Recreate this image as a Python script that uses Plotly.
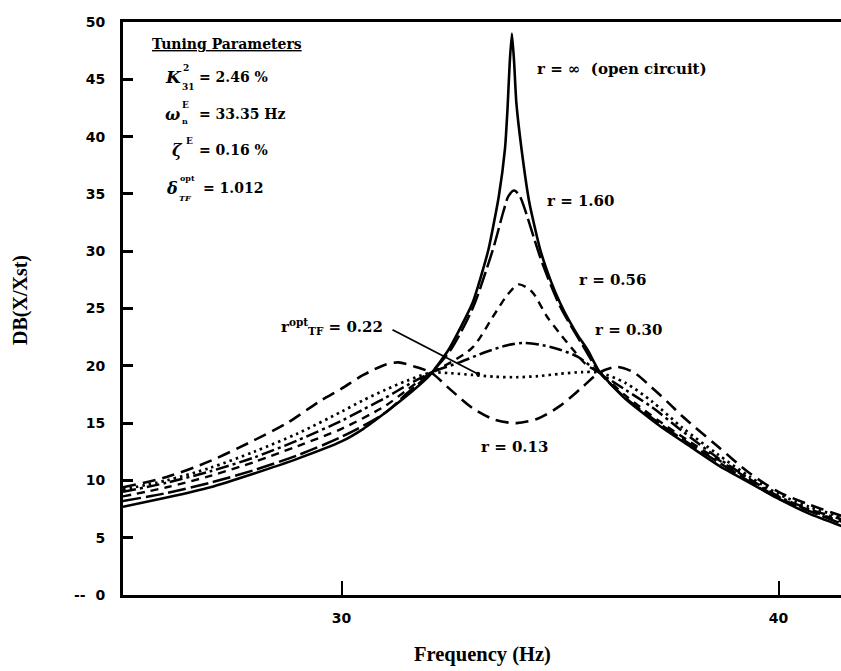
import plotly.graph_objects as go

# ---------------- data ----------------
freq_open = [25.0, 26.0, 27.0, 28.0, 29.0, 30.0, 30.5, 31.0, 31.5, 32.0, 32.45, 33.0, 33.36, 33.6,
             33.74, 33.8, 33.85, 33.9, 33.95, 34.0, 34.12, 34.3, 34.55, 34.8, 35.0, 35.2, 35.4,
             35.63, 35.9, 36.5, 37.3, 38.0, 38.67, 39.0, 40.05, 40.7, 41.45]
db_open = [7.7, 8.5, 9.4, 10.6, 11.9, 13.4, 14.5, 15.9, 17.4, 19.1, 21.4, 25.5, 30.1, 34.8,
           38.9, 42.5, 46.5, 49.0, 46.5, 43.0, 38.9, 34.2, 30.1, 27.3, 25.5, 24.0, 22.7,
           21.4, 19.5, 17.1, 14.7, 12.9, 11.2, 10.5, 8.3, 7.1, 6.0]

freq_r160 = [25.0, 26.0, 27.0, 28.0, 29.0, 30.0, 31.0, 31.5, 32.05, 32.5, 33.0, 33.3, 33.5, 33.7,
             33.82, 33.95, 34.08, 34.2, 34.4, 34.6, 35.0, 35.5, 35.9, 36.5, 37.3, 38.0, 39.0,
             40.0, 41.0, 41.45]
db_r160 = [8.2, 8.9, 9.8, 10.9, 12.2, 13.8, 15.9, 17.6, 19.4, 21.4, 25.0, 28.2, 30.6, 33.4,
           34.8, 35.3, 34.8, 33.6, 31.2, 28.9, 25.2, 21.9, 19.45, 17.2, 14.9, 13.1, 10.7,
           8.4, 6.9, 6.2]

freq_r056 = [25.0, 26.0, 27.0, 28.0, 29.0, 30.0, 31.0, 31.5, 32.05, 32.5, 33.0, 33.5, 33.8, 34.05,
             34.35, 34.7, 35.0, 35.3, 35.6, 35.9, 36.5, 37.3, 38.0, 39.0, 40.0, 41.0, 41.45]
db_r056 = [8.6, 9.4, 10.4, 11.6, 13.0, 14.5, 16.5, 17.9, 19.4, 20.3, 21.6, 24.5, 26.2, 27.1,
           26.5, 24.3, 22.8, 21.4, 20.1, 19.4, 17.4, 15.1, 13.3, 10.9, 8.5, 7.0, 6.4]

freq_r030 = [25.0, 26.0, 27.0, 28.0, 29.0, 30.0, 30.5, 31.0, 31.5, 32.05, 32.7, 33.3, 33.8, 34.15,
             34.6, 35.0, 35.4, 35.9, 36.5, 37.1, 37.8, 38.6, 39.35, 40.0, 40.7, 41.45]
db_r030 = [9.0, 9.8, 10.8, 12.0, 13.5, 15.2, 16.2, 17.2, 18.3, 19.4, 20.3, 21.2, 21.8, 22.0,
           21.8, 21.4, 20.8, 19.4, 17.9, 16.4, 14.3, 12.0, 10.1, 8.6, 7.5, 6.6]

freq_r022 = [25.0, 26.0, 27.0, 28.0, 29.0, 30.0, 30.5, 31.0, 31.5, 32.05, 32.5, 33.0, 33.5, 34.0,
             34.5, 35.0, 35.5, 35.9, 36.5, 37.1, 37.8, 38.6, 39.35, 40.0, 40.7, 41.45]
db_r022 = [9.2, 10.0, 11.1, 12.5, 14.1, 16.0, 17.0, 17.9, 18.7, 19.4, 19.35, 19.2, 19.05, 19.0,
           19.1, 19.3, 19.45, 19.4, 18.5, 16.9, 14.6, 12.3, 10.3, 8.8, 7.7, 6.8]

freq_r013 = [25.0, 26.0, 27.0, 28.0, 28.75, 29.5, 30.0, 30.5, 31.0, 31.3, 31.7, 32.05, 32.5, 33.0,
             33.5, 34.0, 34.5, 35.0, 35.5, 35.9, 36.3, 36.7, 37.1, 37.5, 37.8, 38.6, 39.35,
             40.0, 40.7, 41.45]
db_r013 = [9.4, 10.3, 11.7, 13.5, 15.0, 16.9, 18.0, 19.2, 20.1, 20.3, 19.9, 19.4, 17.9, 16.3,
           15.3, 15.0, 15.4, 16.5, 18.1, 19.4, 19.9, 19.4, 18.1, 16.7, 15.6, 13.0, 10.6,
           9.0, 7.9, 6.9]

x_ticks = [30, 40]
x_tick_labels = ["30", "40"]
y_ticks = [0, 5, 10, 15, 20, 25, 30, 35, 40, 45, 50]
y_tick_labels = ["-- &nbsp;0", "5", "10", "15", "20", "25", "30", "35", "40", "45", "50"]

# ---------------- figure ----------------
W_FIG, H_FIG = 841, 671
ML, MR, MT, MB = 123, 0, 22, 76
PW = W_FIG - ML - MR
PH = H_FIG - MT - MB
X_MAX = 41.43

fig = go.Figure()

def curve(x, y, dash, width=2.5, smooth=0.8):
    fig.add_trace(go.Scatter(x=x, y=y, mode="lines",
                             line=dict(color="black", width=width, dash=dash,
                                       shape="spline", smoothing=smooth),
                             showlegend=False, hoverinfo="skip"))

curve(freq_r013, db_r013, "13px,7px", 2.6)
curve(freq_r022, db_r022, "2.5px,4px", 2.7)
curve(freq_r030, db_r030, "13px,4px,3px,4px", 2.5)
curve(freq_r056, db_r056, "8px,6px", 2.4)
curve(freq_r160, db_r160, "18px,5px", 2.5)
curve(freq_open, db_open, "solid", 2.6, 0.5)

SERIF = "DejaVu Serif"

def txt(px, py, s, size=15, family=SERIF, anchor="left", italic=False):
    fig.add_annotation(x=(px - ML) / PW, y=(H_FIG - MB - py) / PH, xref="paper", yref="paper",
                       text=s, showarrow=False, xanchor=anchor, yanchor="middle",
                       font=dict(family=family, size=size, color="black", weight="bold",
                                 style="italic" if italic else "normal"))

# tuning parameters block
txt(150, 44, "<u>Tuning Parameters</u>", 14)
txt(163, 77, "K", 17, italic=True)
txt(181, 68, "2", 9)
txt(180, 87, "31", 9)
txt(197, 77, "= 2.46 %", 14)
txt(163, 114, "ω", 16, italic=True)
txt(180, 105, "E", 9)
txt(180, 121, "n", 8)
txt(197, 114, "= 33.35 Hz", 14)
txt(170, 150, "ζ", 16, italic=True)
txt(184, 141, "E", 9)
txt(197, 150, "= 0.16 %", 14)
txt(164, 188, "δ", 16, italic=True)
txt(178, 178, "opt", 8)
txt(177, 198, "TF", 8, italic=True)
txt(201, 188, "= 1.012", 14)

# curve labels
txt(535, 69, "r = ∞ &nbsp;(open circuit)", 15)
txt(545, 201, "r = 1.60", 15)
txt(577, 280, "r = 0.56", 15)
txt(593, 330, "r = 0.30", 15)
txt(479, 447, "r = 0.13", 15)
txt(279, 326, "r<sup>opt</sup><sub>TF</sub> = 0.22", 15)

# arrow for the optimal-r label
head_x = 25 + (478 - ML) / PW * (X_MAX - 25)
head_y = (H_FIG - MB - 374) / PH * 50
fig.add_annotation(x=head_x, y=head_y, xref="x", yref="y", text="", showarrow=True,
                   ax=391 - 478, ay=329 - 374, arrowhead=6, arrowsize=0.6,
                   arrowwidth=1.8, arrowcolor="black", standoff=0)

# axis titles
txt(482, 655, "Frequency (Hz)", 20.5, family="Liberation Serif", anchor="center")
fig.add_annotation(x=(20 - ML) / PW, y=(H_FIG - MB - 300) / PH, xref="paper", yref="paper",
                   text="DB(X/Xst)", showarrow=False, textangle=-90,
                   xanchor="center", yanchor="middle",
                   font=dict(family="Liberation Serif", size=20, color="black", weight="bold"))

fig.update_layout(
    width=W_FIG, height=H_FIG,
    margin=dict(l=ML, r=MR, t=MT, b=MB),
    paper_bgcolor="white", plot_bgcolor="white",
    xaxis=dict(range=[25, X_MAX], tickvals=x_ticks, ticktext=x_tick_labels,
               showgrid=False, zeroline=False, showline=True, linecolor="black",
               linewidth=3, mirror=True, ticks="inside", ticklen=14, tickwidth=1.5,
               tickcolor="black", ticklabelstandoff=8,
               tickfont=dict(family="DejaVu Sans", size=14, color="black", weight="bold")),
    yaxis=dict(range=[0, 50], tickvals=y_ticks, ticktext=y_tick_labels,
               showgrid=False, zeroline=False, showline=True, linecolor="black",
               linewidth=3, mirror=False, ticks="inside", ticklen=10, tickwidth=3,
               tickcolor="black", ticklabelstandoff=12,
               tickfont=dict(family="DejaVu Sans", size=14, color="black", weight="bold")),
)

fig.write_html("out.html")
